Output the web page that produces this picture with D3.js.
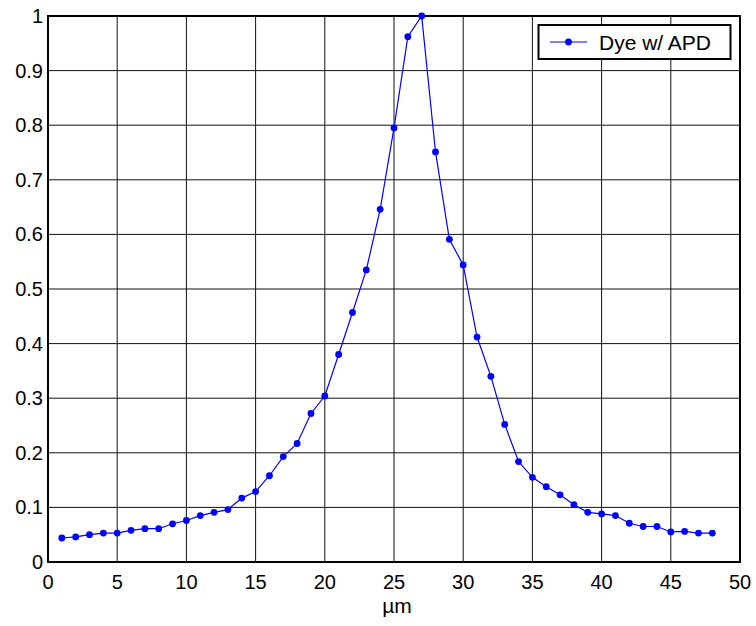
<!DOCTYPE html>
<html>
<head>
<meta charset="utf-8">
<script src="https://cdn.jsdelivr.net/npm/d3@7"></script>
<style>
  body { margin: 0; background: #fff; }
  text { font-family: 'Liberation Sans', Arial, sans-serif; fill: #000; }
</style>
</head>
<body>
<script>
// data
var xs = [1, 2, 3, 4, 5, 6, 7, 8, 9, 10, 11, 12, 13, 14, 15, 16, 17, 18, 19, 20, 21, 22, 23, 24,
  25, 26, 27, 28, 29, 30, 31, 32, 33, 34, 35, 36, 37, 38, 39, 40, 41, 42, 43, 44, 45, 46, 47, 48];
var dye = [0.044, 0.046, 0.050, 0.053, 0.053, 0.058, 0.061, 0.061, 0.070, 0.076, 0.085, 0.091,
  0.096, 0.117, 0.129, 0.158, 0.193, 0.217, 0.272, 0.304, 0.380, 0.457, 0.535, 0.646,
  0.795, 0.962, 1.000, 0.751, 0.591, 0.544, 0.412, 0.340, 0.252, 0.184, 0.155, 0.138,
  0.123, 0.105, 0.091, 0.088, 0.085, 0.071, 0.065, 0.065, 0.055, 0.056, 0.053, 0.053];
var xTicks = [0, 5, 10, 15, 20, 25, 30, 35, 40, 45, 50];
var yTicks = [0, 0.1, 0.2, 0.3, 0.4, 0.5, 0.6, 0.7, 0.8, 0.9, 1];
var seriesName = 'Dye w/ APD';
var xLabel = '\u00b5m';

var width = 756, height = 626;
var L = 48, R = 740, T = 16, B = 562;

var svg = d3.select('body').append('svg')
  .attr('width', width).attr('height', height);

var x = d3.scaleLinear().domain([0, 50]).range([L, R]);
var y = d3.scaleLinear().domain([0, 1]).range([B, T]);

// grid
svg.append('g').selectAll('line').data(xTicks).join('line')
  .attr('x1', d => x(d)).attr('x2', d => x(d))
  .attr('y1', T).attr('y2', B)
  .attr('stroke', '#111').attr('stroke-width', 1);
svg.append('g').selectAll('line').data(yTicks).join('line')
  .attr('x1', L).attr('x2', R)
  .attr('y1', d => y(d)).attr('y2', d => y(d))
  .attr('stroke', '#111').attr('stroke-width', 1);

// axes box
svg.append('rect')
  .attr('x', L).attr('y', T).attr('width', R - L).attr('height', B - T)
  .attr('fill', 'none').attr('stroke', '#000').attr('stroke-width', 2);

// tick labels
svg.append('g').selectAll('text').data(xTicks).join('text')
  .attr('x', d => x(d)).attr('y', 589)
  .attr('text-anchor', 'middle')
  .style('font-size', '20px')
  .text(d => d);
svg.append('g').selectAll('text').data(yTicks).join('text')
  .attr('x', 43).attr('y', d => y(d) + 7)
  .attr('text-anchor', 'end')
  .style('font-size', '20px')
  .text(d => d);

svg.append('text')
  .attr('x', (x(0) + x(50)) / 2 + 3).attr('y', 613)
  .attr('text-anchor', 'middle')
  .style('font-size', '21px')
  .text(xLabel);

// series
var line = d3.line().x((d, i) => x(xs[i])).y(d => y(d));
svg.append('path')
  .attr('d', line(dye))
  .attr('fill', 'none').attr('stroke', '#0000ff').attr('stroke-width', 1.2);
svg.append('g').selectAll('circle').data(dye).join('circle')
  .attr('cx', (d, i) => x(xs[i])).attr('cy', d => y(d))
  .attr('r', 3.4).attr('fill', '#0000ff');

// legend
var lg = svg.append('g');
lg.append('rect')
  .attr('x', 538.5).attr('y', 25).attr('width', 192).attr('height', 34)
  .attr('fill', '#fff').attr('stroke', '#000').attr('stroke-width', 2);
lg.append('line')
  .attr('x1', 550).attr('x2', 587).attr('y1', 42).attr('y2', 42)
  .attr('stroke', '#0000ff').attr('stroke-width', 1.2);
lg.append('circle')
  .attr('cx', 568.5).attr('cy', 42).attr('r', 3.4).attr('fill', '#0000ff');
lg.append('text')
  .attr('x', 599).attr('y', 49.5)
  .style('font-size', '21px')
  .text(seriesName);
</script>
</body>
</html>
